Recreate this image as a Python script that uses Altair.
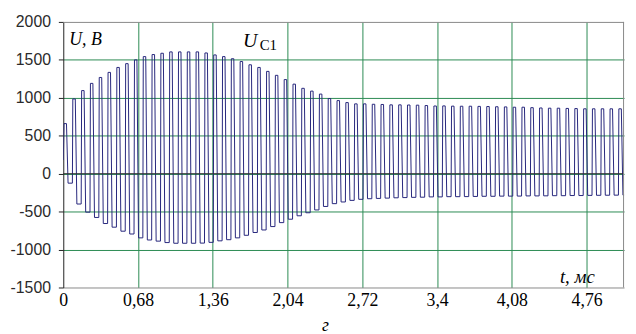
import altair as alt
import pandas as pd

# Peak (high) and trough (low) voltage of each oscillation cycle
HIGHS = [660, 985, 1095, 1190, 1268, 1335, 1400, 1450, 1500, 1543,
         1570, 1587, 1605, 1605, 1605, 1605, 1591, 1565, 1543, 1515,
         1478, 1435, 1400, 1348, 1296, 1240, 1180, 1125, 1088, 1049,
         990, 963, 937, 920, 920, 915, 912, 907, 907, 905,
         903, 898, 892, 893, 890, 889, 889, 887, 885, 882,
         880, 876, 876, 870, 866, 863, 863, 860, 858, 855,
         855, 855, 855, 855]
LOWS = [-125, -400, -507, -577, -657, -705, -758, -795, -846, -874,
        -889, -908, -917, -917, -917, -915, -905, -885, -870, -846,
        -812, -775, -742, -697, -645, -600, -555, -515, -478, -432,
        -395, -373, -352, -338, -330, -326, -322, -318, -315, -312,
        -310, -306, -306, -303, -303, -302, -300, -298, -298, -296,
        -296, -295, -293, -293, -292, -290, -290, -288, -288, -286,
        -285, -284, -283, -282]
START_VALUE = 180          # value at t = 0
FIRST_RISE = 0.005         # ms, first rising edge
PERIOD = 0.0801            # ms, oscillation period

X_TICKS = [0, 0.68, 1.36, 2.04, 2.72, 3.4, 4.08, 4.76]
Y_TICKS = [-1500, -1000, -500, 0, 500, 1000, 1500, 2000]
X_MAX = 5.1

# waveform shape within one period (fractions of the period)
t_pts, u_pts = [0.0], [START_VALUE]
for k, (hi, lo) in enumerate(zip(HIGHS, LOWS)):
    t0 = FIRST_RISE + k * PERIOD
    for frac, val in ((0.02, hi), (0.30, hi), (0.48, lo), (0.97, lo)):
        t_pts.append(t0 + frac * PERIOD)
        u_pts.append(val)
wave = pd.DataFrame({"t": t_pts, "u": u_pts, "i": range(len(t_pts))})

W, H = 568, 269
GRID = "#2b8a52"
x_scale = alt.Scale(domain=[0, X_MAX], nice=False, zero=False)
y_scale = alt.Scale(domain=[-1500, 2000], nice=False)

x_axis = alt.Axis(values=X_TICKS, title=None, ticks=False, grid=True, gridColor=GRID,
                  gridOpacity=alt.condition("datum.value == 0", alt.value(0), alt.value(1)),
                  domainColor="#888888", labelExpr="replace(toString(datum.value), '.', ',')",
                  labelFont="Liberation Serif", labelFontSize=18, labelColor="#000000",
                  labelPadding=4, labelFlush=False, labelOverlap=False)
y_axis = alt.Axis(values=Y_TICKS, title=None, grid=True, gridColor=GRID,
                  gridOpacity=alt.condition("datum.value == 2000 || datum.value == -1500",
                                            alt.value(0), alt.value(1)),
                  domainColor="#222222", tickColor="#222222", tickSize=5, labelPadding=8,
                  labelExpr="toString(datum.value)", labelOverlap=False, labelFlush=False,
                  labelBound=False, labelSeparation=0,
                  labelFont="Liberation Sans", labelFontSize=16, labelColor="#2a2a2a")

line = alt.Chart(wave).mark_line(color="#26267c", strokeWidth=1, clip=True).encode(
    x=alt.X("t:Q", scale=x_scale, axis=x_axis),
    y=alt.Y("u:Q", scale=y_scale, axis=y_axis),
    order="i:Q",
)

zero = alt.Chart(pd.DataFrame({"u": [0]})).mark_rule(color="#333333", strokeWidth=1).encode(
    y=alt.Y("u:Q", scale=y_scale, axis=y_axis))

one = pd.DataFrame({"a": [0]})
top_border = alt.Chart(one).mark_rule(color="#888888").encode(
    x=alt.value(0), x2=alt.value(W), y=alt.value(0.5))
right_border = alt.Chart(one).mark_rule(color="#888888").encode(
    x=alt.value(W - 0.5), y=alt.value(0), y2=alt.value(H))

def label(text, x, y, size, italic=True):
    return alt.Chart(one).mark_text(
        align="left", baseline="alphabetic", font="Liberation Serif", fontSize=size,
        fontStyle="italic" if italic else "normal", color="#000000",
    ).encode(x=alt.value(x), y=alt.value(y), text=alt.value(text))

texts = [
    label("U, В", 6, 23, 18),
    label("U", 182, 25, 20),
    label("C1", 199, 28, 15, italic=False),
    label("t, мс", 503, 264, 19),
    label("г", 262, 313, 18),
]

chart = alt.layer(line, zero, top_border, right_border, *texts).properties(
    width=W, height=H,
    padding={"left": 56, "top": 12, "right": 4, "bottom": 45},
    autosize=alt.AutoSizeParams(type="none"),
).configure_view(stroke=None)

chart.save("out.html", embed_options={"renderer": "svg", "actions": False})
